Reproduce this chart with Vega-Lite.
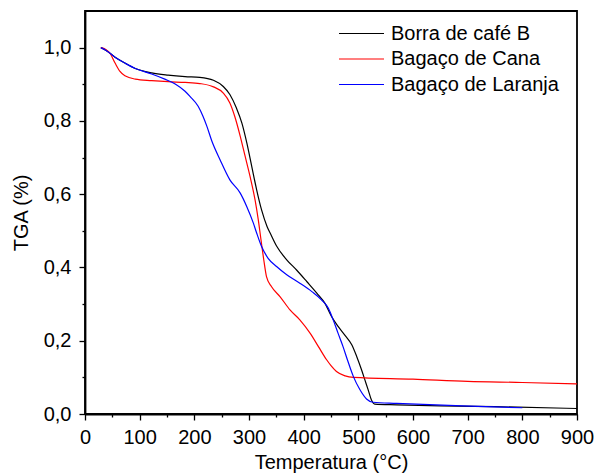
{
  "$schema": "https://vega.github.io/schema/vega-lite/v6.json",
  "autosize": "none",
  "width": 492,
  "height": 403,
  "padding": {"left": 85, "top": 11, "right": 18, "bottom": 62},
  "background": "white",
  "config": {
    "font": "Liberation Sans",
    "view": {"stroke": "black", "strokeWidth": 1.8},
    "axis": {
      "domainColor": "black",
      "domainWidth": 1.8,
      "tickColor": "black",
      "tickWidth": 1.3,
      "grid": false,
      "labelFont": "Liberation Sans",
      "labelFontSize": 20,
      "labelColor": "black",
      "titleFont": "Liberation Sans",
      "titleFontSize": 20,
      "titleFontWeight": "normal",
      "titleColor": "black"
    },
    "legend": {
      "labelFont": "Liberation Sans",
      "labelFontSize": 20,
      "labelColor": "black",
      "labelLimit": 0
    }
  },
  "data": {
    "values": [
      {"s": "Borra de café B", "T": 29, "v": 1.0},
      {"s": "Borra de café B", "T": 40, "v": 0.991},
      {"s": "Borra de café B", "T": 55, "v": 0.974},
      {"s": "Borra de café B", "T": 73, "v": 0.958},
      {"s": "Borra de café B", "T": 92, "v": 0.943},
      {"s": "Borra de café B", "T": 122, "v": 0.931},
      {"s": "Borra de café B", "T": 152, "v": 0.925},
      {"s": "Borra de café B", "T": 183, "v": 0.921},
      {"s": "Borra de café B", "T": 210, "v": 0.919},
      {"s": "Borra de café B", "T": 235, "v": 0.911},
      {"s": "Borra de café B", "T": 253, "v": 0.894},
      {"s": "Borra de café B", "T": 265, "v": 0.872},
      {"s": "Borra de café B", "T": 277, "v": 0.835},
      {"s": "Borra de café B", "T": 287, "v": 0.794},
      {"s": "Borra de café B", "T": 296, "v": 0.74},
      {"s": "Borra de café B", "T": 305, "v": 0.676},
      {"s": "Borra de café B", "T": 314, "v": 0.612},
      {"s": "Borra de café B", "T": 323, "v": 0.557},
      {"s": "Borra de café B", "T": 333, "v": 0.512},
      {"s": "Borra de café B", "T": 340, "v": 0.49},
      {"s": "Borra de café B", "T": 351, "v": 0.457},
      {"s": "Borra de café B", "T": 369, "v": 0.421},
      {"s": "Borra de café B", "T": 387, "v": 0.393},
      {"s": "Borra de café B", "T": 406, "v": 0.361},
      {"s": "Borra de café B", "T": 424, "v": 0.33},
      {"s": "Borra de café B", "T": 439, "v": 0.302},
      {"s": "Borra de café B", "T": 451, "v": 0.266},
      {"s": "Borra de café B", "T": 463, "v": 0.239},
      {"s": "Borra de café B", "T": 476, "v": 0.214},
      {"s": "Borra de café B", "T": 488, "v": 0.189},
      {"s": "Borra de café B", "T": 497, "v": 0.157},
      {"s": "Borra de café B", "T": 506, "v": 0.12},
      {"s": "Borra de café B", "T": 512, "v": 0.093},
      {"s": "Borra de café B", "T": 518, "v": 0.066},
      {"s": "Borra de café B", "T": 524, "v": 0.038},
      {"s": "Borra de café B", "T": 530, "v": 0.027},
      {"s": "Borra de café B", "T": 570, "v": 0.025},
      {"s": "Borra de café B", "T": 650, "v": 0.022},
      {"s": "Borra de café B", "T": 750, "v": 0.02},
      {"s": "Borra de café B", "T": 900, "v": 0.015},
      {"s": "Bagaço de Cana", "T": 29, "v": 1.0},
      {"s": "Bagaço de Cana", "T": 38, "v": 0.995},
      {"s": "Bagaço de Cana", "T": 46, "v": 0.984},
      {"s": "Bagaço de Cana", "T": 55, "v": 0.958},
      {"s": "Bagaço de Cana", "T": 64, "v": 0.935},
      {"s": "Bagaço de Cana", "T": 73, "v": 0.923},
      {"s": "Bagaço de Cana", "T": 92, "v": 0.914},
      {"s": "Bagaço de Cana", "T": 122, "v": 0.91},
      {"s": "Bagaço de Cana", "T": 152, "v": 0.907},
      {"s": "Bagaço de Cana", "T": 183, "v": 0.905},
      {"s": "Bagaço de Cana", "T": 210, "v": 0.902},
      {"s": "Bagaço de Cana", "T": 235, "v": 0.893},
      {"s": "Bagaço de Cana", "T": 253, "v": 0.876},
      {"s": "Bagaço de Cana", "T": 265, "v": 0.849},
      {"s": "Bagaço de Cana", "T": 274, "v": 0.812},
      {"s": "Bagaço de Cana", "T": 284, "v": 0.758},
      {"s": "Bagaço de Cana", "T": 293, "v": 0.703},
      {"s": "Bagaço de Cana", "T": 302, "v": 0.648},
      {"s": "Bagaço de Cana", "T": 311, "v": 0.585},
      {"s": "Bagaço de Cana", "T": 317, "v": 0.53},
      {"s": "Bagaço de Cana", "T": 322, "v": 0.475},
      {"s": "Bagaço de Cana", "T": 327, "v": 0.421},
      {"s": "Bagaço de Cana", "T": 332, "v": 0.375},
      {"s": "Bagaço de Cana", "T": 341, "v": 0.348},
      {"s": "Bagaço de Cana", "T": 357, "v": 0.32},
      {"s": "Bagaço de Cana", "T": 375, "v": 0.284},
      {"s": "Bagaço de Cana", "T": 393, "v": 0.257},
      {"s": "Bagaço de Cana", "T": 412, "v": 0.22},
      {"s": "Bagaço de Cana", "T": 427, "v": 0.184},
      {"s": "Bagaço de Cana", "T": 442, "v": 0.148},
      {"s": "Bagaço de Cana", "T": 450, "v": 0.132},
      {"s": "Bagaço de Cana", "T": 460, "v": 0.116},
      {"s": "Bagaço de Cana", "T": 476, "v": 0.104},
      {"s": "Bagaço de Cana", "T": 491, "v": 0.1},
      {"s": "Bagaço de Cana", "T": 600, "v": 0.095},
      {"s": "Bagaço de Cana", "T": 700, "v": 0.089},
      {"s": "Bagaço de Cana", "T": 800, "v": 0.086},
      {"s": "Bagaço de Cana", "T": 900, "v": 0.082},
      {"s": "Bagaço de Laranja", "T": 29, "v": 1.0},
      {"s": "Bagaço de Laranja", "T": 40, "v": 0.991},
      {"s": "Bagaço de Laranja", "T": 55, "v": 0.974},
      {"s": "Bagaço de Laranja", "T": 73, "v": 0.958},
      {"s": "Bagaço de Laranja", "T": 92, "v": 0.943},
      {"s": "Bagaço de Laranja", "T": 122, "v": 0.928},
      {"s": "Bagaço de Laranja", "T": 146, "v": 0.914},
      {"s": "Bagaço de Laranja", "T": 165, "v": 0.901},
      {"s": "Bagaço de Laranja", "T": 183, "v": 0.881},
      {"s": "Bagaço de Laranja", "T": 192, "v": 0.867},
      {"s": "Bagaço de Laranja", "T": 207, "v": 0.84},
      {"s": "Bagaço de Laranja", "T": 216, "v": 0.812},
      {"s": "Bagaço de Laranja", "T": 223, "v": 0.785},
      {"s": "Bagaço de Laranja", "T": 232, "v": 0.745},
      {"s": "Bagaço de Laranja", "T": 247, "v": 0.694},
      {"s": "Bagaço de Laranja", "T": 265, "v": 0.639},
      {"s": "Bagaço de Laranja", "T": 284, "v": 0.603},
      {"s": "Bagaço de Laranja", "T": 296, "v": 0.566},
      {"s": "Bagaço de Laranja", "T": 308, "v": 0.521},
      {"s": "Bagaço de Laranja", "T": 314, "v": 0.494},
      {"s": "Bagaço de Laranja", "T": 323, "v": 0.457},
      {"s": "Bagaço de Laranja", "T": 335, "v": 0.425},
      {"s": "Bagaço de Laranja", "T": 351, "v": 0.402},
      {"s": "Bagaço de Laranja", "T": 369, "v": 0.38},
      {"s": "Bagaço de Laranja", "T": 393, "v": 0.357},
      {"s": "Bagaço de Laranja", "T": 415, "v": 0.334},
      {"s": "Bagaço de Laranja", "T": 433, "v": 0.311},
      {"s": "Bagaço de Laranja", "T": 445, "v": 0.289},
      {"s": "Bagaço de Laranja", "T": 454, "v": 0.257},
      {"s": "Bagaço de Laranja", "T": 463, "v": 0.22},
      {"s": "Bagaço de Laranja", "T": 472, "v": 0.184},
      {"s": "Bagaço de Laranja", "T": 480, "v": 0.148},
      {"s": "Bagaço de Laranja", "T": 491, "v": 0.102},
      {"s": "Bagaço de Laranja", "T": 503, "v": 0.066},
      {"s": "Bagaço de Laranja", "T": 515, "v": 0.041},
      {"s": "Bagaço de Laranja", "T": 527, "v": 0.032},
      {"s": "Bagaço de Laranja", "T": 570, "v": 0.029},
      {"s": "Bagaço de Laranja", "T": 690, "v": 0.022},
      {"s": "Bagaço de Laranja", "T": 800, "v": 0.017}
    ]
  },
  "mark": {"type": "line", "strokeWidth": 1.2, "interpolate": "monotone", "clip": true},
  "encoding": {
    "x": {
      "field": "T",
      "type": "quantitative",
      "scale": {"domain": [0, 900], "nice": false, "zero": false},
      "axis": {
        "title": "Temperatura (°C)",
        "values": [0, 50, 100, 150, 200, 250, 300, 350, 400, 450, 500, 550, 600, 650, 700, 750, 800, 850, 900],
        "labelExpr": "datum.value % 100 == 0 ? datum.label : ''",
        "tickSize": {"condition": {"test": "datum.value % 100 == 0", "value": 6}, "value": 3},
        "labelPadding": 7,
        "titlePadding": 5,
        "labelFlush": false
      }
    },
    "y": {
      "field": "v",
      "type": "quantitative",
      "scale": {"domain": [0, 1.1], "nice": false, "zero": false},
      "axis": {
        "title": "TGA (%)",
        "values": [0, 0.1, 0.2, 0.3, 0.4, 0.5, 0.6, 0.7, 0.8, 0.9, 1.0],
        "labelExpr": "round(datum.value * 10) % 2 == 0 ? replace(format(datum.value, '.1f'), '.', ',') : ''",
        "tickSize": {"condition": {"test": "round(datum.value * 10) % 2 == 0", "value": 6}, "value": 3},
        "labelPadding": 8,
        "titlePadding": 12,
        "labelFlush": false
      }
    },
    "color": {
      "field": "s",
      "type": "nominal",
      "sort": ["Borra de café B", "Bagaço de Cana", "Bagaço de Laranja"],
      "scale": {
        "domain": ["Borra de café B", "Bagaço de Cana", "Bagaço de Laranja"],
        "range": ["#000000", "#ff0000", "#0000ff"]
      },
      "legend": {
        "title": null,
        "orient": "none",
        "legendX": 253,
        "legendY": 10,
        "padding": 0,
        "symbolType": "stroke",
        "symbolSize": 2025,
        "symbolStrokeWidth": 1.2,
        "clipHeight": 25,
        "rowPadding": 0.5,
        "labelOffset": 6,
        "labelLimit": 0
      }
    }
  }
}
